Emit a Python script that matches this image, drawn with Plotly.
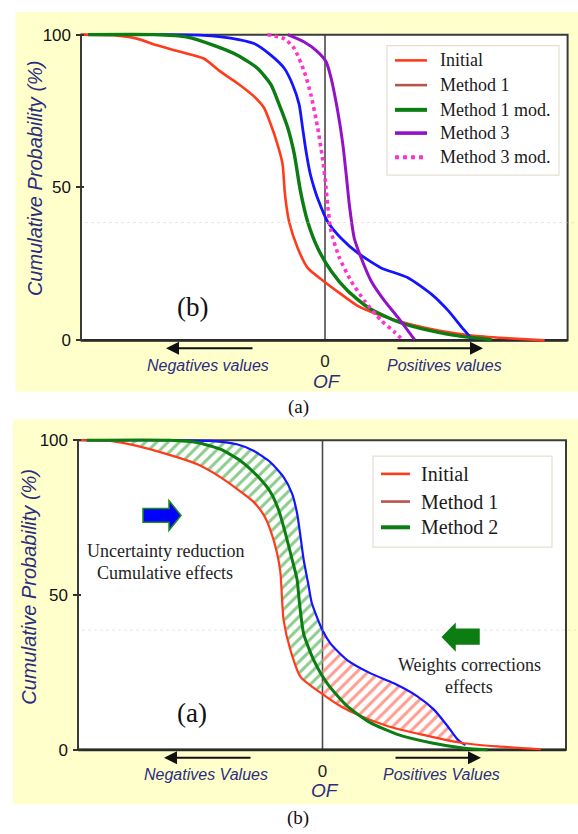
import numpy as np
import plotly.graph_objects as go

W, H = 578, 834

# ---------------- panel (a): five cumulative curves ----------------
init_a_x = [-1.0, -0.867, -0.771, -0.689, -0.593, -0.497, -0.428, -0.359, -0.291, -0.25, -0.222,
            -0.195, -0.174, -0.168, -0.165, -0.147, -0.112, -0.071, 0.0, 0.066, 0.134, 0.23,
            0.34, 0.464, 0.6, 0.738, 0.9]
init_a_y = [100, 99.8, 98.7, 96.5, 94.4, 92.2, 87.9, 84.1, 79.8, 76.1, 70.6,
            64.2, 57.7, 52, 48.5, 38.8, 30.2, 23.7, 19.0, 15.1, 11.3, 8.1,
            5.4, 3.2, 1.6, 0.75, 0]

m1_a_x = [-0.97, -0.634, -0.497, -0.387, -0.291, -0.222, -0.167, -0.133, -0.106, -0.092, -0.078,
          -0.062, -0.045, -0.03, 0.011, 0.066, 0.134, 0.23, 0.34, 0.436, 0.505, 0.56, 0.594, 0.6]
m1_a_y = [100, 100, 99.8, 98.9, 97.1, 93.3, 89, 83.7, 77.2, 69.6, 62,
          55, 50, 46.4, 38.8, 33.4, 28.6, 23.7, 20.5, 15.1, 9.7, 4.3, 1.1, 0]

m1mod_a_x = [-0.97, -0.702, -0.565, -0.456, -0.359, -0.277, -0.222, -0.188, -0.153, -0.126,
             -0.101, -0.071, -0.03, 0.025, 0.093, 0.176, 0.285, 0.395, 0.532, 0.683]
m1mod_a_y = [100, 100, 99.2, 96.5, 93.3, 89, 83.7, 77.2, 69.6, 61,
             49, 38.8, 30.2, 22.7, 16.2, 10.8, 6.5, 3.8, 1.6, 0.2]

m3_a_x = [-0.153, -0.085, -0.03, 0.004, 0.025, 0.052, 0.073, 0.088, 0.1, 0.12, 0.148,
          0.189, 0.244, 0.299, 0.367]
m3_a_y = [100, 97.6, 94.4, 91.2, 85.8, 75, 64.2, 53.4, 44.2, 33.4, 27,
          19.4, 12.9, 7.5, 0.2]

m3mod_a_x = [-0.236, -0.167, -0.126, -0.085, -0.058, -0.03, -0.009, 0.004, 0.011, 0.025,
             0.059, 0.107, 0.162, 0.23, 0.285, 0.32]
m3mod_a_y = [100, 98.7, 95.5, 87.9, 80.4, 69.6, 58.8, 50.2, 44.2, 35.6,
             27, 19.4, 12.9, 6.5, 2.7, 0]

# ---------------- panel (b): three cumulative curves ----------------
init_b_x = [-1.0, -0.869, -0.759, -0.636, -0.514, -0.418, -0.35, -0.282, -0.24, -0.213, -0.186,
            -0.172, -0.166, -0.159, -0.131, -0.09, 0.0, 0.074, 0.156, 0.265, 0.402, 0.566,
            0.716, 0.893]
init_b_y = [100, 99.8, 98.2, 95.5, 92.3, 88.1, 84.3, 80.1, 75.8, 71, 63.6,
            57.2, 49.5, 41.8, 32.2, 23.6, 18.0, 14.1, 10.9, 7.7, 5, 2.3,
            1.1, 0.2]

m1_b_x = [-0.97, -0.62, -0.459, -0.35, -0.282, -0.213, -0.159, -0.124, -0.104, -0.09, -0.077,
          -0.058, -0.044, 0.0, 0.033, 0.101, 0.197, 0.292, 0.388, 0.456, 0.511, 0.552, 0.579, 0.585]
m1_b_y = [100, 100, 99.8, 98.7, 96.6, 92.9, 88.1, 82.7, 76.4, 68.9, 61.4,
          53.5, 47.5, 38.6, 34.3, 29, 24.7, 21.5, 17.3, 13, 7.7, 3.4, 1.8, 1.6]

m2_b_x = [-0.964, -0.623, -0.514, -0.418, -0.336, -0.268, -0.213, -0.179, -0.152, -0.124,
          -0.104, -0.095, -0.077, -0.036, 0.019, 0.101, 0.197, 0.306, 0.443, 0.566, 0.675]
m2_b_y = [100, 100, 99.3, 97.1, 93.4, 88.6, 83.3, 77.4, 70, 61.4,
          55, 48, 37.5, 29, 21.5, 14.1, 8.7, 5, 2.3, 0.7, 0]

y_ticks = [0, 50, 100]

RED = "#ff3b1c"
BLUE = "#1414ff"
GREEN = "#0b7d12"
PURPLE = "#9212c8"
PINK = "#ff33cc"
BROWN = "#b8524c"
NAVY = "#2b2d80"
YELLOW = "#ffffcc"
SERIF = "Liberation Serif"
SANS = "Liberation Sans"


def X(px):
    return px / W


def Y(py):
    return 1 - py / H


fig = go.Figure()

# panel (a) curves
curves_a = [
    (init_a_x, init_a_y, RED, 2.6, "solid", "Initial"),
    (m1_a_x, m1_a_y, BLUE, 2.8, "solid", "Method 1"),
    (m1mod_a_x, m1mod_a_y, GREEN, 3.4, "solid", "Method 1 mod."),
    (m3mod_a_x, m3mod_a_y, PINK, 3.6, "dot", "Method 3 mod."),
    (m3_a_x, m3_a_y, PURPLE, 3.0, "solid", "Method 3"),
]
for xs, ys, c, w, d, name in curves_a:
    fig.add_trace(go.Scatter(x=xs, y=ys, mode="lines", name=name, showlegend=False,
                             line=dict(color=c, width=w, dash=d, shape="spline", smoothing=0.6),
                             xaxis="x", yaxis="y", hoverinfo="skip"))

# panel (b): hatched areas between Initial and Method 1, split at OF = 0
bx, by = np.array(m1_b_x), np.array(m1_b_y)
rx, ry = np.array(init_b_x), np.array(init_b_y)
left_poly_x = np.concatenate([bx[bx <= 0], rx[rx <= 0][::-1]])
left_poly_y = np.concatenate([by[bx <= 0], ry[rx <= 0][::-1]])
keep_r = (rx >= 0) & (rx <= bx.max())
right_poly_x = np.concatenate([bx[bx >= 0], rx[keep_r][::-1]])
right_poly_y = np.concatenate([by[bx >= 0], ry[keep_r][::-1]])

for px_, py_, fg in [(left_poly_x, left_poly_y, "rgba(120,195,120,0.85)"),
                     (right_poly_x, right_poly_y, "rgba(255,140,125,0.85)")]:
    fig.add_trace(go.Scatter(x=px_, y=py_, mode="lines", fill="toself", showlegend=False,
                             line=dict(width=0, color="rgba(0,0,0,0)"),
                             fillcolor="rgba(255,255,255,0)",
                             fillpattern=dict(shape="/", size=8, solidity=0.38, fgcolor=fg,
                                              bgcolor="rgba(255,255,255,0)", fillmode="replace"),
                             xaxis="x2", yaxis="y2", hoverinfo="skip"))

curves_b = [
    (m1_b_x, m1_b_y, BLUE, 2.2, "Method 1"),
    (init_b_x, init_b_y, RED, 2.2, "Initial"),
    (m2_b_x, m2_b_y, GREEN, 3.0, "Method 2"),
]
for xs, ys, c, w, name in curves_b:
    fig.add_trace(go.Scatter(x=xs, y=ys, mode="lines", name=name, showlegend=False,
                             line=dict(color=c, width=w, shape="spline", smoothing=0.6),
                             xaxis="x2", yaxis="y2", hoverinfo="skip"))

# ---------------- axes geometry (pixel frame of each panel) ----------------
panels = {
    "a": dict(left=81, zero=325, right=567.6, bottom=340, top=31, xa="x", ya="y"),
    "b": dict(left=78, zero=322.5, right=566, bottom=754, top=441, xa="x2", ya="y2"),
}
PAD = 5
layout_axes = {}
shapes = []
annotations = []

# yellow panel backgrounds
for x0, y0, x1, y1 in [(15.5, 8, 578, 392), (13, 420, 578, 809)]:
    shapes.append(dict(type="rect", xref="paper", yref="paper", layer="below",
                       x0=X(x0), x1=X(x1), y0=Y(y1), y1=Y(y0),
                       fillcolor=YELLOW, line=dict(width=0)))

for key, p in panels.items():
    sx = p["zero"] - p["left"]
    xr = (p["right"] - p["zero"]) / sx
    sy = (p["bottom"] - p["top"]) / 100.0
    xname = "xaxis" if p["xa"] == "x" else "xaxis2"
    yname = "yaxis" if p["ya"] == "y" else "yaxis2"
    layout_axes[xname] = dict(
        domain=[X(p["left"] - PAD), X(p["right"] + PAD)],
        range=[-1 - PAD / sx, xr + PAD / sx], anchor=p["ya"],
        showgrid=False, zeroline=False, showline=False,
        tickvals=[0], ticktext=["0"], ticks="",
        tickfont=dict(family=SANS, size=17, color="#222222"),
        ticklabelstandoff=4, fixedrange=True)
    layout_axes[yname] = dict(
        domain=[Y(p["bottom"] + PAD), Y(p["top"] - PAD)],
        range=[-PAD / sy, 100 + PAD / sy], anchor=p["xa"],
        showgrid=False, zeroline=False, showline=False,
        tickvals=y_ticks, ticktext=[str(v) for v in y_ticks],
        ticks="inside", ticklen=8, tickwidth=1.5, tickcolor="#333333",
        tickfont=dict(family=SANS, size=17, color="#111111"),
        ticklabelstandoff=4, fixedrange=True)
    # white plotting area, OF = 0 line and frame
    shapes.append(dict(type="rect", xref=p["xa"], yref=p["ya"], layer="below",
                       x0=-1, x1=xr, y0=0, y1=100, fillcolor="white", line=dict(width=0)))
    shapes.append(dict(type="line", xref=p["xa"], yref=p["ya"], layer="below",
                       x0=0, x1=0, y0=0, y1=100, line=dict(color="#4a4a4a", width=1.6)))
    shapes.append(dict(type="rect", xref=p["xa"], yref=p["ya"], layer="below",
                       x0=-1, x1=xr, y0=0, y1=100, line=dict(color="#3a3a3a", width=2)))
    shapes.append(dict(type="line", xref=p["xa"], yref=p["ya"], layer="below",
                       x0=-1, x1=xr, y0=0, y1=0, line=dict(color="#2a2a2a", width=2.6)))

# faint dotted guide lines
for yy, x0 in [(221, 85), (633, 82)]:
    shapes.append(dict(type="line", xref="paper", yref="paper", layer="above",
                       x0=X(x0), x1=X(576), y0=Y(yy), y1=Y(yy),
                       line=dict(color="rgba(205,205,185,0.45)", width=1, dash="dot")))


# ---------------- text around each panel ----------------
def text(x, y, s, size, family=SANS, color=NAVY, italic=False, angle=0, xanchor="center"):
    annotations.append(dict(xref="paper", yref="paper", x=X(x), y=Y(y), text=s,
                            showarrow=False, xanchor=xanchor, yanchor="middle", textangle=angle,
                            font=dict(family=family, size=size, color=color,
                                      style="italic" if italic else "normal")))


def arrow(x_head, x_tail, y):
    annotations.append(dict(xref="paper", yref="paper", x=X(x_head), y=Y(y), text="",
                            showarrow=True, ax=x_tail - x_head, ay=0, arrowhead=2,
                            arrowsize=1.3, arrowwidth=2, arrowcolor="#111111"))


for ylab_x, ylab_y, neg_y, of_y, arr_y, tag_y, cap_y, neg, pos, tag, cap, shift in [
        (35, 176, 365, 382, 348, 306, 407, "Negatives values", "Positives values", "(b)", "(a)", 0),
        (29, 589, 779, 795, 762, 717, 823, "Negatives Values", "Positives Values", "(a)", "(b)", -2)]:
    text(ylab_x, ylab_y, "Cumulative Probability (%)", 20, italic=True, angle=-90)
    text(208 + shift, neg_y, neg, 16, italic=True)
    text(444 + shift, neg_y, pos, 16, italic=True)
    text(327 + shift, of_y, "OF", 19, italic=True)
    arrow(166 + shift, 254 + shift, arr_y)
    arrow(483 + shift, 396 + shift, arr_y)
    text(192, tag_y, tag, 27, family=SERIF, color="#111111")
    text(298, cap_y, cap, 19, family=SERIF, color="#111111")

# panel (b) explanatory notes
text(165, 553, "Uncertainty reduction", 18, family=SERIF, color="#1e1e1e")
text(165, 575, "Cumulative effects", 18, family=SERIF, color="#1e1e1e")
text(469, 668, "Weights corrections", 18, family=SERIF, color="#1e1e1e")
text(469, 690, "effects", 18, family=SERIF, color="#1e1e1e")


def block_arrow(pts, fill, outline):
    path = "M " + " L ".join(f"{X(a):.5f},{Y(b):.5f}" for a, b in pts) + " Z"
    shapes.append(dict(type="path", xref="paper", yref="paper", layer="above", path=path,
                       fillcolor=fill, line=dict(color=outline, width=1.5)))


block_arrow([(143, 510), (169, 510), (169, 502), (181, 517), (169, 532), (169, 524), (143, 524)],
            "#0000ff", "#1a8a1a")
block_arrow([(479, 632), (455, 632), (455, 627), (442.5, 640), (455, 653), (455, 647), (479, 647)],
            "#0b7d12", "#0b7d12")

# ---------------- legends ----------------
legend_a = [("Initial", RED, 2.6, "solid"), ("Method 1", BROWN, 2.6, "solid"),
            ("Method 1 mod.", GREEN, 4, "solid"), ("Method 3", PURPLE, 3.6, "solid"),
            ("Method 3 mod.", PINK, 4, "dot")]
legend_b = [("Initial", RED, 2.6, "solid"), ("Method 1", BROWN, 2.6, "solid"),
            ("Method 2", GREEN, 4, "solid")]

for entries, box, rows, lx0, lx1, tx, fsize in [
        (legend_a, (387, 42, 559, 173), [57, 82, 107, 130.5, 155], 395, 427, 438, 18),
        (legend_b, (373, 457, 552, 549), [475, 503, 529], 381, 410, 419, 20)]:
    shapes.append(dict(type="rect", xref="paper", yref="paper", layer="above",
                       x0=X(box[0]), x1=X(box[2]), y0=Y(box[3]), y1=Y(box[1]),
                       fillcolor="white", line=dict(color="#e3e0d2", width=1.2)))
    for (name, c, w, d), ry_ in zip(entries, rows):
        shapes.append(dict(type="line", xref="paper", yref="paper", layer="above",
                           x0=X(lx0), x1=X(lx1), y0=Y(ry_), y1=Y(ry_),
                           line=dict(color=c, width=w, dash=d)))
        text(tx, ry_, name, fsize, family=SERIF, color="#1a1a1a", xanchor="left")

fig.update_layout(width=W, height=H, margin=dict(l=0, r=0, t=0, b=0),
                  paper_bgcolor="white", plot_bgcolor="rgba(0,0,0,0)",
                  showlegend=False, shapes=shapes, annotations=annotations, **layout_axes)

fig.write_html("out.html")
